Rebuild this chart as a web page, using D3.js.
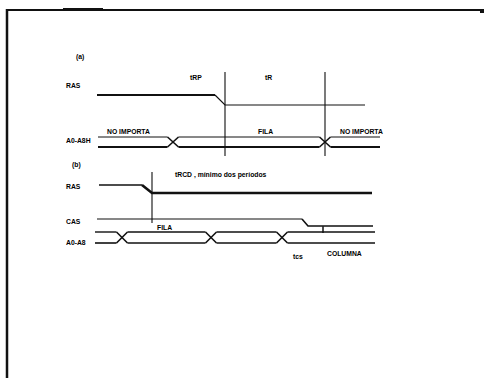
<!DOCTYPE html>
<html>
<head>
<meta charset="utf-8">
<script src="https://cdn.jsdelivr.net/npm/d3@7"></script>
<style>
  body { margin: 0; background: #fff; }
  svg text { font-family: "Liberation Sans", Arial, sans-serif; font-weight: bold; fill: #000; }
</style>
</head>
<body>
<div id="chart"></div>
<script>
// waveforms: [time, level] pairs, level 1 = high, 0 = low
const rasA = [[0, 1], [118, 1], [128, 0], [268, 0]];
const rasB = [[2, 1], [45, 1], [55, 0], [275, 0]];
const casB = [[0, 1], [205, 1], [211, 0], [276, 0]];

// buses: start, crossing times, end
const addrA = { start: 1, crosses: [76, 228], end: 283 };
const addrB = { start: -2, crosses: [25, 114, 185], end: 278 };

// timing markers
const markersA = [128, 228];
const markerB = [55];
const tickB = [226];

// texts
const sectionLabels = ['(a)', '(b)'];
const signalNames = ['RAS', 'A0-A8H', 'RAS', 'CAS', 'A0-A8'];
const busTextsA = [['NO IMPORTA', 10], ['FILA', 161], ['NO IMPORTA', 243]];
const busTextsB = [['FILA', 60]];
const timeTexts = [['tRP', 93], ['tR', 168]];
const noteB = 'tRCD , mínimo dos períodos';
const bottomTexts = [['tcs', 196], ['COLUMNA', 230]];

const width = 484, height = 378;
const svg = d3.select('#chart').append('svg')
  .attr('width', width).attr('height', height);

// frame
svg.append('line').attr('x1', 6).attr('x2', 484).attr('y1', 10).attr('y2', 10)
  .attr('stroke', '#111').attr('stroke-width', 2);
svg.append('line').attr('x1', 7).attr('x2', 7).attr('y1', 9).attr('y2', 378)
  .attr('stroke', '#111').attr('stroke-width', 2.5);
svg.append('rect').attr('x', 63).attr('y', 8).attr('width', 40).attr('height', 3).attr('fill', '#111');
svg.append('rect').attr('x', 480).attr('y', 10).attr('width', 4).attr('height', 3).attr('fill', '#111');

const x = d3.scaleLinear().domain([0, 280]).range([97, 377]);

// one y scale per row: level 0 -> low edge, 1 -> high edge
const rowY = (low, high) => d3.scaleLinear().domain([0, 1]).range([low, high]);
const yRasA = rowY(105, 95);
const yAddrA = rowY(147, 137);
const yRasB = rowY(193, 185);
const yCasB = rowY(226, 219);
const yAddrB = rowY(243, 232);

function wave(data, y, w1, w0) {
  const line = d3.line().x(d => x(d[0])).y(d => y(d[1]));
  // high part and low part with separate stroke widths
  const hiEnd = data.findIndex(d => d[1] === 0);
  svg.append('path').attr('d', line(data.slice(0, hiEnd)))
    .attr('fill', 'none').attr('stroke', '#111').attr('stroke-width', w1);
  svg.append('path').attr('d', line(data.slice(hiEnd - 1)))
    .attr('fill', 'none').attr('stroke', '#111').attr('stroke-width', w0);
}

function bus(b, y, wTop, wBot) {
  const half = 5.5;
  const stops = [b.start, ...b.crosses, b.end];
  const line = d3.line().x(d => x(d[0])).y(d => y(d[1]));
  // straight runs between the crossings
  for (let i = 0; i < stops.length - 1; i++) {
    const a = i === 0 ? stops[i] : stops[i] + half;
    const c = i === stops.length - 2 ? stops[i + 1] : stops[i + 1] - half;
    svg.append('path').attr('d', line([[a, 1], [c, 1]]))
      .attr('fill', 'none').attr('stroke', '#111').attr('stroke-width', wTop);
    svg.append('path').attr('d', line([[a, 0], [c, 0]]))
      .attr('fill', 'none').attr('stroke', '#111').attr('stroke-width', wBot);
  }
  b.crosses.forEach(t => {
    svg.append('path').attr('d', line([[t - half, 1], [t + half, 0]]))
      .attr('fill', 'none').attr('stroke', '#111').attr('stroke-width', 1.6);
    svg.append('path').attr('d', line([[t - half, 0], [t + half, 1]]))
      .attr('fill', 'none').attr('stroke', '#111').attr('stroke-width', 1.6);
  });
}

function marker(t, y1, y2, w) {
  svg.append('line').attr('x1', x(t)).attr('x2', x(t)).attr('y1', y1).attr('y2', y2)
    .attr('stroke', '#222').attr('stroke-width', w || 1.2);
}

// (a)
markersA.forEach(t => marker(t, 72, 156));
wave(rasA, yRasA, 2, 1.2);
bus(addrA, yAddrA, 1, 2);

// (b)
markerB.forEach(t => marker(t, 172, 223));
wave(rasB, yRasB, 1.6, 2.6);
wave(casB, yCasB, 1.2, 1.6);
tickB.forEach(t => marker(t, yCasB(0), yAddrB(1) + 1, 1.6));
bus(addrB, yAddrB, 1.4, 1.6);

// labels
const txt = (s, xx, yy, size) => svg.append('text').attr('x', xx).attr('y', yy)
  .attr('font-size', size || 6.8).text(s);

txt(sectionLabels[0], 76, 59);
txt(sectionLabels[1], 72, 167);
const nameY = [88, 143, 189, 224, 245];
signalNames.forEach((s, i) => txt(s, 66, nameY[i]));

timeTexts.forEach(([s, t]) => txt(s, x(t), 80));
busTextsA.forEach(([s, t]) => txt(s, x(t), 134));
busTextsB.forEach(([s, t]) => txt(s, x(t), 229.5));
txt(noteB, 175, 177);
bottomTexts.forEach(([s, t], i) => txt(s, x(t), i === 0 ? 259 : 256));
</script>
</body>
</html>
